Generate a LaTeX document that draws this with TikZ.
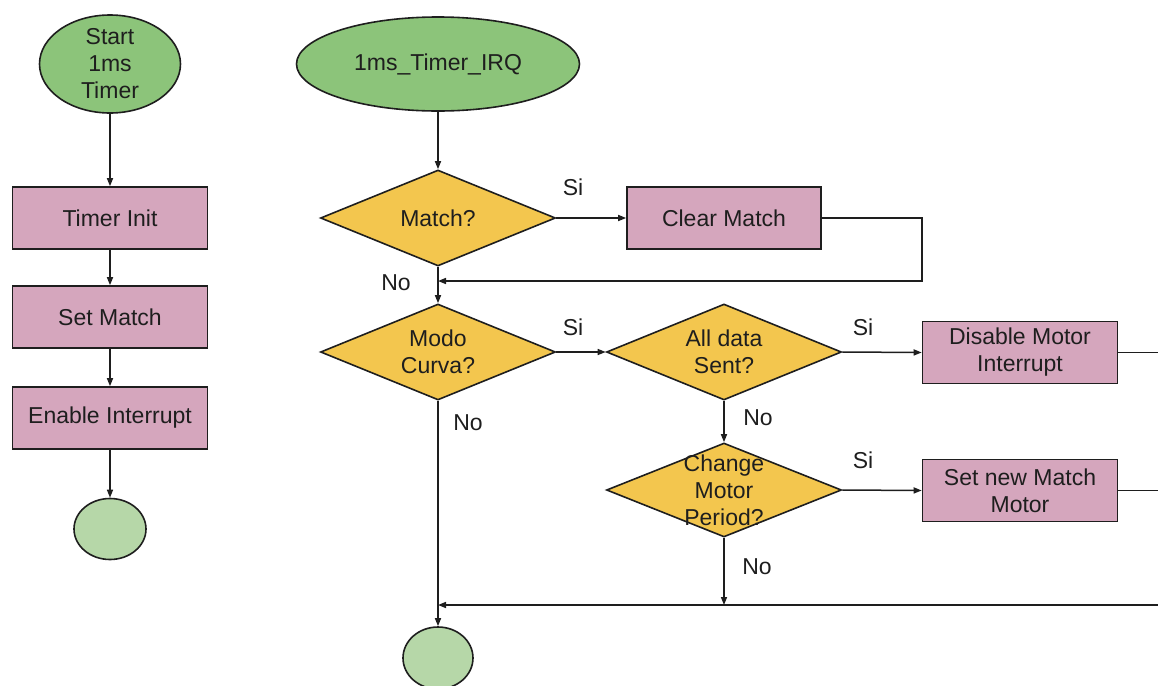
\documentclass[tikz,border=0pt]{standalone}
\usepackage{fontspec}
\setmainfont{Liberation Sans}
\usetikzlibrary{shapes.geometric,arrows.meta}
\definecolor{startgreen}{HTML}{8CC47A}
\definecolor{endgreen}{HTML}{B6D7A8}
\definecolor{boxpink}{HTML}{D5A6BD}
\definecolor{decyellow}{HTML}{F3C64E}
\definecolor{ink}{HTML}{1E1E1E}
\begin{document}
\begin{tikzpicture}[x=0.5pt,y=-0.5pt,
  font=\fontsize{11.5}{13.5}\selectfont,
  every node/.style={text=ink},
  terminal/.style={ellipse, draw=ink, line width=0.8pt, fill=startgreen, inner sep=0pt},
  stopper/.style={ellipse, draw=ink, line width=0.8pt, fill=endgreen, inner sep=0pt},
  process/.style={rectangle, draw=ink, line width=0.8pt, fill=boxpink, minimum width=97.5pt, minimum height=31pt, align=center, inner sep=0pt},
  decision/.style={diamond, draw=ink, line width=0.8pt, fill=decyellow, minimum width=117.5pt, minimum height=48pt, inner sep=0pt},
  caption/.style={align=center, inner sep=0pt},
  flow/.style={draw=ink, line width=0.75pt, -{Triangle[length=4pt,width=3pt]}},
  wire/.style={draw=ink, line width=0.75pt},
  tag/.style={inner sep=0pt}
]
\useasboundingbox (0,0) rectangle (1158,686);

% --- timer start-up sequence (left column)
\node[terminal, minimum width=70.5pt, minimum height=49pt,
      label={[caption]center:{Start\\1ms\\Timer}}] (start) at (110,64) {};
\node[process] (init) at (110,218) {Timer Init};
\node[process] (setm) at (110,317) {Set Match};
\node[process] (enable) at (110,418) {Enable Interrupt};
\node[stopper, minimum width=36pt, minimum height=30.5pt] (stop1) at (110,529) {};

\draw[flow] (start.south) -- (init.north);
\draw[flow] (init.south) -- (setm.north);
\draw[flow] (setm.south) -- (enable.north);
\draw[flow] (enable.south) -- (stop1.north);

% --- interrupt handler (right part)
\node[terminal, minimum width=141.5pt, minimum height=47pt,
      label={[caption]center:1ms\_Timer\_IRQ}] (irq) at (438,64) {};
\node[decision, label={[caption]center:Match?}] (match) at (438,218) {};
\node[process, minimum width=97pt] (clear) at (724,218) {Clear Match};
\node[decision, label={[caption]center:{Modo\\Curva?}}] (modo) at (438,352) {};
\node[decision, label={[caption]center:{All data\\Sent?}}] (sent) at (724,352) {};
\node[process] (disable) at (1020,352.5) {Disable Motor\\Interrupt};
\node[decision, minimum height=47pt, label={[caption]center:{Change\\Motor\\Period?}}] (period) at (724,490) {};
\node[process] (newmatch) at (1020,490.5) {Set new Match\\Motor};
\node[stopper, minimum width=35pt, minimum height=31pt] (stop2) at (438,658) {};

\coordinate (ret) at (922,281);
\coordinate (join) at (438,281);
\coordinate (edgeA) at (1158,352.5);
\coordinate (edgeB) at (1158,490.5);
\coordinate (mergeR) at (1158,605);
\coordinate (mergeL) at (438,605);

\draw[flow] (irq.south) -- (match.north);
\draw[flow] (match.east) -- (clear.west);
\draw[flow] (clear.east) -| (ret) -- (join);
\draw[flow] (match.south) -- (modo.north);
\draw[flow] (modo.east) -- (sent.west);
\draw[flow] (sent.east) -- (disable.west);
\draw[wire] (disable.east) -- (edgeA);
\draw[flow] (sent.south) -- (period.north);
\draw[flow] (period.east) -- (newmatch.west);
\draw[wire] (newmatch.east) -- (edgeB);
\draw[flow] (period.south) -- (period.south |- mergeR);
\draw[flow] (mergeR) -- (mergeL);
\draw[flow] (modo.south) -- (stop2.north);

% --- branch labels
\node[tag] (siA) at (573,187) {Si};
\node[tag] (noA) at (396,283) {No};
\node[tag] (siB) at (573,327) {Si};
\node[tag] (siC) at (863,327) {Si};
\node[tag] (noB) at (468,423) {No};
\node[tag] (noC) at (758,418) {No};
\node[tag] (siD) at (863,460) {Si};
\node[tag] (noD) at (757,567) {No};
\end{tikzpicture}
\end{document}
